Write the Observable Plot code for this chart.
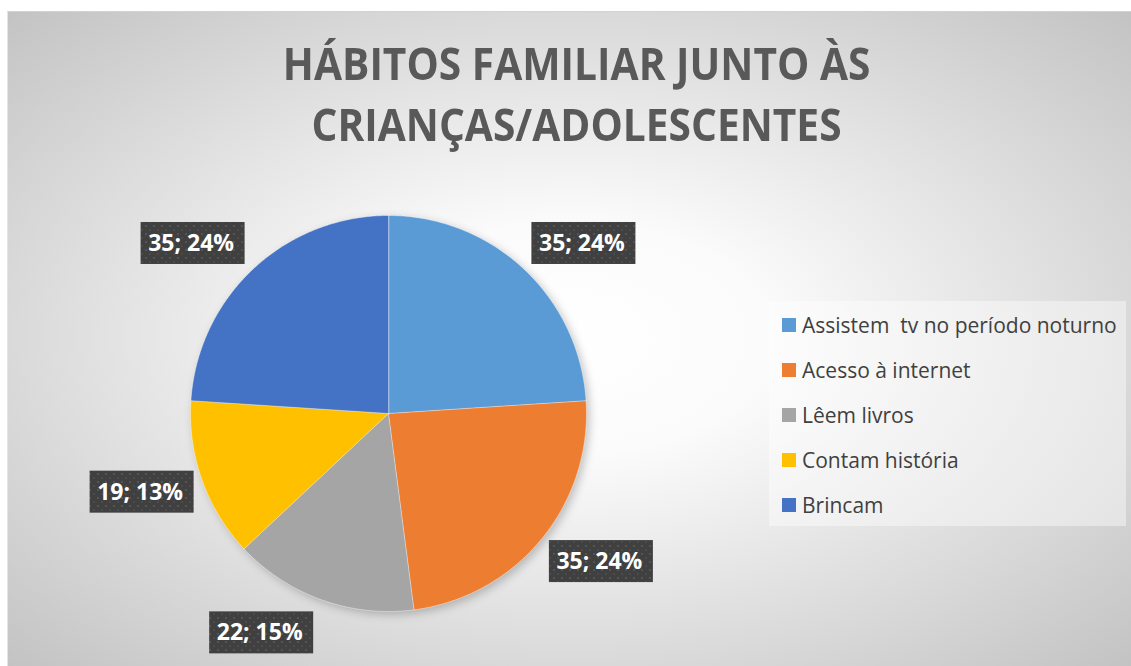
<!DOCTYPE html>
<html><head><meta charset="utf-8">
<script src="https://cdn.jsdelivr.net/npm/d3@7"></script>
<script src="https://cdn.jsdelivr.net/npm/@observablehq/plot@0.6"></script>
<style>
body{margin:0;background:#fff;}
#chart{position:relative;width:1131px;height:666px;overflow:hidden;font-family:"Open Sans",sans-serif;}
#bg{position:absolute;left:7px;top:11px;right:0;bottom:0;
  background:radial-gradient(farthest-corner at 50% 50%, #ffffff 0%, #fbfbfb 25%, #c3c3c3 100%);
  border-top:1px solid #d2d2d2;border-left:1px solid #e4e4e4;}
#plot{position:absolute;left:0;top:0;}
.tl{position:absolute;left:0;width:1154px;text-align:center;font-weight:700;font-size:44px;line-height:60px;height:60px;color:#595959;white-space:nowrap;}
.tl span{display:inline-block;transform:scaleX(0.925);transform-origin:50% 50%;}
#legend{position:absolute;left:769px;top:301px;width:357px;height:225px;background:rgba(255,255,255,0.42);}
.item{position:absolute;left:13px;height:26px;font-size:21px;line-height:26px;color:#404040;white-space:pre;}
.sw{position:absolute;left:0;top:6px;width:14px;height:14px;}
.lb{position:absolute;left:20px;top:0;}
</style></head>
<body>
<div id="chart">
  <div id="bg"></div>
  <div id="plot"></div>
  <div id="title"></div>
  <div id="legend"></div>
</div>
<script>
const titleLines = ["HÁBITOS FAMILIAR JUNTO ÀS", "CRIANÇAS/ADOLESCENTES"];
const categories = ["Assistem  tv no período noturno", "Acesso à internet", "Lêem livros", "Contam história", "Brincam"];
const values = [35, 35, 22, 19, 35];
const colors = ["#5B9BD5", "#ED7D31", "#A5A5A5", "#FFC000", "#4472C4"];

const W = 1131, H = 666;
const cx = 388, cy = 413, R = 198;

const titleEl = document.getElementById("title");
titleLines.forEach((t, i) => {
  const d = document.createElement("div");
  d.className = "tl";
  d.style.top = (33 + i * 61) + "px";
  const s = document.createElement("span");
  s.textContent = t;
  d.appendChild(s);
  titleEl.appendChild(d);
});

const total = d3.sum(values);
const arcs = d3.pie().sort(null).startAngle(0).endAngle(2 * Math.PI)(values);

// slice outlines in unit-circle data coordinates (y up)
const slicePts = [];
arcs.forEach((a, i) => {
  const cat = categories[i];
  slicePts.push({cat, x: 0, y: 0});
  const n = Math.max(2, Math.ceil((a.endAngle - a.startAngle) / (Math.PI / 360)));
  for (let k = 0; k <= n; k++) {
    const t = a.startAngle + (a.endAngle - a.startAngle) * k / n;
    slicePts.push({cat, x: Math.sin(t), y: Math.cos(t)});
  }
});

const labels = arcs.map((a, i) => {
  const m = (a.startAngle + a.endAngle) / 2;
  const ux = Math.sin(m), uy = Math.cos(m);
  return {
    cat: categories[i],
    x: ux + Math.sign(ux) * 0.303,
    y: uy + uy * 0.177,
    text: `${values[i]}; ${Math.round(values[i] / total * 100)}%`
  };
});

const plot = Plot.plot({
  width: W, height: H,
  marginTop: 0, marginRight: 0, marginBottom: 0, marginLeft: 0,
  style: {background: "transparent", overflow: "visible"},
  x: {domain: [-cx / R, (W - cx) / R], range: [0, W], axis: null},
  y: {domain: [(cy - H) / R, cy / R], range: [H, 0], axis: null},
  color: {domain: categories, range: colors},
  marks: [
    Plot.line(slicePts, {x: "x", y: "y", z: "cat", fill: "cat", stroke: "#ffffff", strokeWidth: 0.8, strokeOpacity: 0.5, curve: "linear-closed"}),
    Plot.rect(labels, {x1: "x", x2: "x", y1: "y", y2: "y", insetLeft: -52, insetRight: -52, insetTop: -21, insetBottom: -21, fill: "url(#lblpat)", ariaLabel: "label-box"}),
    Plot.text(labels, {x: "x", y: "y", text: "text", fill: "white", fontSize: 23, fontWeight: 700, fontFamily: "Open Sans", dx: -2})
  ]
});
document.getElementById("plot").appendChild(plot);

// defs: pattern for label boxes
const ns = "http://www.w3.org/2000/svg";
const defs = document.createElementNS(ns, "defs");
defs.innerHTML = `<pattern id="lblpat" patternUnits="userSpaceOnUse" width="8" height="8">
  <rect width="8" height="8" fill="#404040"/>
  <circle cx="2" cy="2" r="1" fill="#5a5a5a"/>
  <circle cx="6" cy="6" r="1" fill="#4e4e4e"/>
</pattern>`;
plot.insertBefore(defs, plot.firstChild);
const lineG = plot.querySelector('g[aria-label="line"]');
if (lineG) lineG.style.filter = "drop-shadow(3px 3px 4px rgba(0,0,0,0.22))";
const boxG = plot.querySelector('g[aria-label="label-box"]');
if (boxG) boxG.style.filter = "drop-shadow(4px 4px 3px rgba(0,0,0,0.45))";

// legend
const leg = document.getElementById("legend");
categories.forEach((c, i) => {
  const it = document.createElement("div");
  it.className = "item";
  it.style.top = (10.5 + i * 45) + "px";
  it.innerHTML = `<div class="sw" style="background:${colors[i]}"></div><div class="lb"></div>`;
  it.querySelector(".lb").textContent = c;
  leg.appendChild(it);
});
</script>
</body></html>
